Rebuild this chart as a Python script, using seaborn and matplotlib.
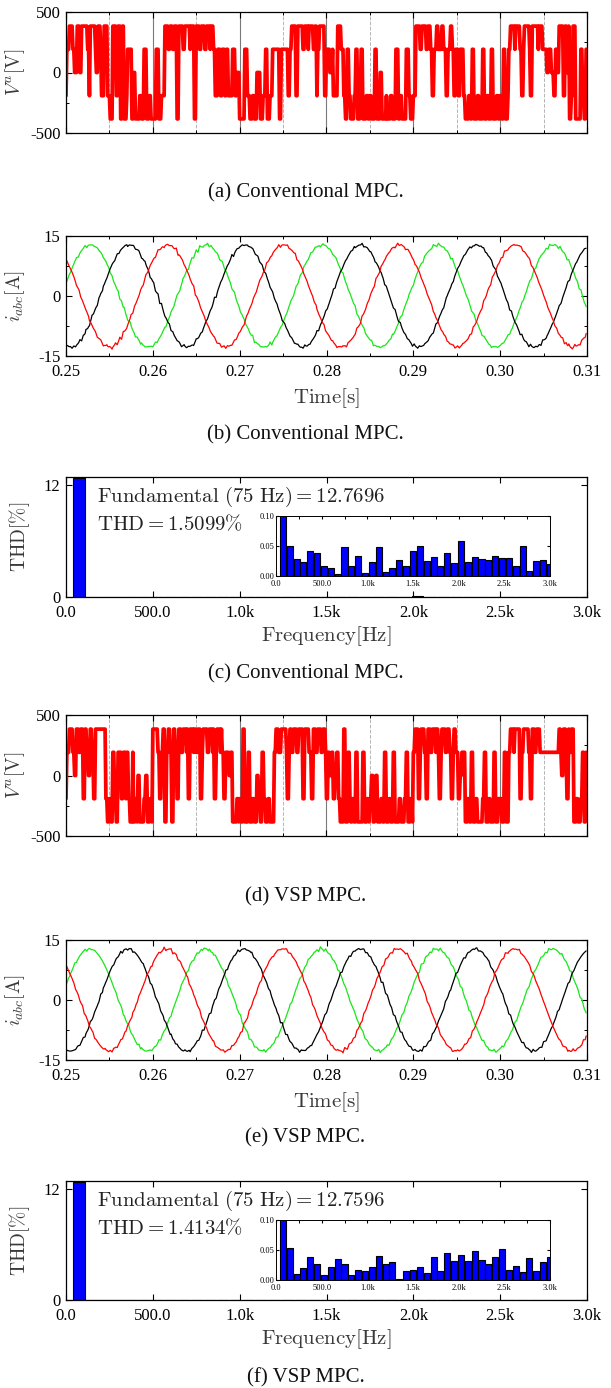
import numpy as np
import pandas as pd
import matplotlib
matplotlib.use("Agg")
import matplotlib.pyplot as plt
from matplotlib.ticker import MultipleLocator, FixedLocator, FixedFormatter
import seaborn as sns

sns.set_theme(style="ticks")
plt.rcParams["font.family"] = ["Liberation Serif", "DejaVu Serif"]
plt.rcParams["mathtext.fontset"] = "cm"
plt.rcParams["axes.unicode_minus"] = False

# ---------------------------------------------------------------- data
F1 = 75.0            # fundamental frequency [Hz]
T_START = 0.25       # first sample [s]
T_STEP = 0.0001      # sample period of the stored voltage sequences [s]
VDC = 575.0          # dc-link voltage [V]; phase levels are k*VDC/3
LEVEL_CODE = {"A": 2, "B": 1, "C": 0, "D": -1, "E": -2}

# phase-a voltage level sequences, one character per sample (10 per ms)
VA_CONV = (
    "DBBBAAAABB" "CCCAAACCAA" "AAAAABBDAA" "AAAABCCAAA" "BDDDAAAADD"
    "DEEEAAAADD" "AAAEEAAEEE" "DBBBBBEECC" "EEEEEDDEEE" "BBBEEEDDEE"
    "EEEEBBBEEE" "DDDDAAAABB" "AAABBAAAEE" "AAAAABBAAA" "AAABAAAAEE"
    "AAAABBAAAA" "BBAAAABAAA" "BBDDDBBBDD" "BBBDDBBDDD" "DDBBBDDCCC"
    "EEEEEEBBBD" "DDEEEDDEEE" "CCCCEEEDDD" "BBEEEDDDBB" "BBBBBBEEBB"
    "BBBBBBDDBB" "AAAAADDAAA" "AAABBAAAAB" "AAAAABBAAD" "BBAAAAAADD"
    "BBBBCCCBDD" "DDDAAAABBB" "DDEEBBDDEE" "EEDDBBEEED" "BBEEEEDDEE"
    "DDEEEEBBEE" "EECCEEEEED" "EEEEDDEEEE" "BBBEEDDEEE" "EEBBBDDEEE"
    "DDDAAAAABB" "AAAAABBAAA" "BBDDBBBAAB" "BBBAABBBDD" "BBBAABBDDB"
    "BBDDBBBBDD" "EEEEDDEEBB" "EEEEDDEEEE" "BBEEEDDEEE" "BBEEEEDDEE"
    "DDEEBBEEED" "BBAAAAABAA" "AAABBDDBAA" "AAAABDDAAA" "AAAABAAAAB"
    "BBBBCCBBBC" "CCDDBBCCAA" "AAADDAACCA" "EEDDAAAEEE" "EEEBBDDEEB"
)
VA_VSP = (
    "DBBBAAAABB" "CCAAABBAAA" "DDAABBCCAA" "BBDDAAAAAA" "AAAAAADDEE"
    "DDEEBBDDEE" "BBBBDDBBBD" "BBDDEEEBEE" "DDECCEEEEE" "DDCCEEEDDE"
    "AAAAAABBDD" "BBAAEEBBAA" "BBEEAABBDD" "AAABBAAAAB" "ADDAAAABAA"
    "BBAAADDBAA" "AAABBAAAAB" "ADDBAAAABA" "BBDDBBBBCC" "BBEEEEEDDE"
    "DDEEAAEEEE" "BBEEEDDEEE" "CCDDEEBBDD" "EEEDDEEEEE" "BBAAABBBAA"
    "AAAABDDBAA" "BBAAAABBAA" "AAADDAAAAA" "BBBDDAAABB" "AAAABBAAAB"
    "DDBBCCBBDD" "CCBBDDEEEE" "AAEEEBBDEE" "DDEEBBEEEE" "EEBBEEEDDE"
    "DDCCEEDCCE" "EEEDDEEBBE" "EEDDEEEBBE" "EEEEDDEEEE" "DDBBEEEDDE"
    "BBAAAADDBA" "AAABBDDAAA" "BBAAAABAAB" "DDBAAAABBA" "AABBDDBAAB"
    "BBDDCCBBBB" "EEEDDEEBBE" "EEDDEEEEEE" "DDBBEEEDDE" "EEEBBEEEDD"
    "DDEEEBBEEE" "BBAAAABAAA" "AAADDBBAAA" "AAABBDDAAA" "BBAAAABBBB"
    "BBBBBBBBBB" "BBBBBBBBAA" "BCCAAABDDA" "BBAAAEEEDD" "EEEDDBBEEB"
)

FUND_AMP = [12.7696, 12.7596]      # fundamental current amplitude [A]
THD_PCT = [1.5099, 1.4134]         # total harmonic distortion [%]
PEAK_T_RED = [0.2617, 0.2616]      # time of the red-phase current peak [s]

# harmonic magnitudes, orders 2..40
HARM_CONV = [0.050, 0.028, 0.023, 0.041, 0.038, 0.017, 0.013, 0.004, 0.048, 0.017,
             0.033, 0.005, 0.023, 0.048, 0.006, 0.014, 0.026, 0.017, 0.041, 0.050,
             0.025, 0.031, 0.017, 0.038, 0.022, 0.058, 0.024, 0.032, 0.028, 0.027,
             0.033, 0.030, 0.030, 0.016, 0.050, 0.008, 0.025, 0.026, 0.020]
HARM_VSP = [0.053, 0.010, 0.020, 0.039, 0.026, 0.008, 0.022, 0.035, 0.026, 0.008,
            0.016, 0.015, 0.022, 0.040, 0.027, 0.030, 0.002, 0.015, 0.017, 0.021,
            0.011, 0.038, 0.015, 0.045, 0.031, 0.042, 0.031, 0.049, 0.033, 0.027,
            0.039, 0.051, 0.016, 0.024, 0.014, 0.036, 0.015, 0.030, 0.038]

TIME_TICKS = [0.25, 0.26, 0.27, 0.28, 0.29, 0.30, 0.31]
TIME_LABELS = ["0.25", "0.26", "0.27", "0.28", "0.29", "0.30", "0.31"]
FREQ_TICKS = [0, 500, 1000, 1500, 2000, 2500, 3000]
FREQ_LABELS = ["0.0", "500.0", "1.0k", "1.5k", "2.0k", "2.5k", "3.0k"]
CAPTIONS = ["(a) Conventional MPC.", "(b) Conventional MPC.", "(c) Conventional MPC.",
            "(d) VSP MPC.", "(e) VSP MPC.", "(f) VSP MPC."]

# ---------------------------------------------------------------- helpers
W_PX, H_PX = 611, 1388
LABEL_COLOR = "#3a3a3a"


def rect(x0, y0, x1, y1):
    return [x0 / W_PX, 1 - y1 / H_PX, (x1 - x0) / W_PX, (y1 - y0) / H_PX]


def levels_to_volts(code):
    return np.array([LEVEL_CODE[c] for c in code], dtype=float) * VDC / 3.0


def phase_currents(t, v, amp, thd, t_peak):
    """Three-phase currents: fundamental plus the ripple produced by
    integrating the switched voltage minus its own fundamental."""
    w = 2 * np.pi * F1
    basis = np.column_stack([np.cos(w * t), np.sin(w * t), np.ones_like(t)])
    coef, *_ = np.linalg.lstsq(basis, v, rcond=None)
    dev = v - basis @ coef
    ripple = np.cumsum(dev)
    ripple = ripple - pd.Series(ripple).rolling(5, center=True, min_periods=1).mean().values
    ripple *= (thd / 100.0 * amp) / ripple.std()
    third = 1.0 / (3 * F1)
    shift = int(round(third / T_STEP))
    red = amp * np.cos(w * (t - t_peak)) + ripple
    black = amp * np.cos(w * (t - t_peak + third)) + np.roll(ripple, shift)
    green = amp * np.cos(w * (t - t_peak + 2 * third)) + np.roll(ripple, 2 * shift)
    return red, black, green


def frame(ax, labelsize=12, xpad=6):
    for s in ax.spines.values():
        s.set_color("black")
        s.set_linewidth(0.9)
    ax.tick_params(which="both", direction="in", top=True, right=True,
                   colors="black", labelsize=labelsize, pad=4)
    ax.tick_params(axis="x", which="both", pad=xpad)
    ax.tick_params(which="major", length=4, width=0.8)
    ax.tick_params(which="minor", length=2.5, width=0.7)


def voltage_panel(ax, t, v):
    sns.lineplot(x=t, y=v, ax=ax, color="#ff0000", linewidth=2.7,
                 estimator=None, sort=False)
    ax.set_xlim(0.25, 0.31)
    ax.set_ylim(-500, 500)
    ax.xaxis.set_major_locator(MultipleLocator(0.01))
    ax.xaxis.set_minor_locator(MultipleLocator(0.005))
    ax.set_xticklabels([])
    ax.yaxis.set_major_locator(FixedLocator([-500, 0, 500]))
    ax.yaxis.set_major_formatter(FixedFormatter(["-500", "0", "500"]))
    ax.yaxis.set_minor_locator(MultipleLocator(250))
    ax.set_axisbelow(True)
    ax.grid(which="major", axis="x", color="#7a7a7a", linewidth=0.8, linestyle="-")
    ax.grid(which="minor", axis="x", color="#b5b5b5", linewidth=0.7, linestyle="--")
    ax.grid(which="major", axis="y", visible=False)
    ax.set_xlabel("")
    ax.set_ylabel(r"$V^a[\mathrm{V}]$", fontsize=14, color=LABEL_COLOR)
    ax.yaxis.set_label_coords(-0.075, 0.5)
    frame(ax)


def current_panel(ax, t, red, black, green):
    sns.lineplot(x=t, y=green, ax=ax, color="#19e619", linewidth=0.9, estimator=None, sort=False)
    sns.lineplot(x=t, y=black, ax=ax, color="#000000", linewidth=0.9, estimator=None, sort=False)
    sns.lineplot(x=t, y=red, ax=ax, color="#ff0000", linewidth=0.9, estimator=None, sort=False)
    ax.set_xlim(0.25, 0.31)
    ax.set_ylim(-15, 15)
    ax.xaxis.set_major_locator(FixedLocator(TIME_TICKS))
    ax.xaxis.set_major_formatter(FixedFormatter(TIME_LABELS))
    ax.xaxis.set_minor_locator(MultipleLocator(0.005))
    ax.yaxis.set_major_locator(FixedLocator([-15, 0, 15]))
    ax.yaxis.set_major_formatter(FixedFormatter(["-15", "0", "15"]))
    ax.yaxis.set_minor_locator(MultipleLocator(7.5))
    ax.set_xlabel(r"$\mathrm{Time[s]}$", fontsize=15, color=LABEL_COLOR)
    ax.xaxis.set_label_coords(0.5, -0.25)
    ax.set_ylabel(r"$i_{abc}[\mathrm{A}]$", fontsize=14, color=LABEL_COLOR)
    ax.yaxis.set_label_coords(-0.075, 0.5)
    frame(ax)


def spectrum_panel(fig, ax, inset_rect, amp, thd, harm):
    freqs = F1 * np.arange(1, len(harm) + 2)
    mags = np.array([amp] + list(harm))
    for a, (ylim, yt, ytl) in zip(
            (ax, fig.add_axes(inset_rect)),
            (((0, 12.9), [0, 12], ["0", "12"]),
             ((0, 0.10), [0.0, 0.05, 0.10], ["0.00", "0.05", "0.10"]))):
        sns.barplot(x=freqs, y=mags, ax=a, native_scale=True, orient="x",
                    width=0.88, color="#0000ff", saturation=1, edgecolor="black",
                    linewidth=0.8, errorbar=None)
        a.set_xlim(0, 3000)
        a.set_ylim(*ylim)
        a.xaxis.set_major_locator(FixedLocator(FREQ_TICKS))
        a.xaxis.set_major_formatter(FixedFormatter(FREQ_LABELS))
        a.yaxis.set_major_locator(FixedLocator(yt))
        a.yaxis.set_major_formatter(FixedFormatter(ytl))
        a.set_xlabel("")
        a.set_ylabel("")
        if a is ax:
            frame(a)
        else:
            frame(a, labelsize=6, xpad=2.8)
            a.xaxis.set_minor_locator(MultipleLocator(250))
            a.tick_params(axis="y", which="both", pad=1.2)
            a.tick_params(which="major", length=2.5)
            a.tick_params(which="minor", length=1.8)
            for s in a.spines.values():
                s.set_linewidth(0.7)
    ax.set_xlabel(r"$\mathrm{Frequency[Hz]}$", fontsize=15, color=LABEL_COLOR)
    ax.xaxis.set_label_coords(0.5, -0.225)
    ax.set_ylabel(r"$\mathrm{THD}[\%]$", fontsize=14, color=LABEL_COLOR)
    ax.yaxis.set_label_coords(-0.065, 0.5)
    ax.text(0.06, 0.835, rf"$\mathrm{{Fundamental\ (75\ Hz)}} = {amp:.4f}$",
            transform=ax.transAxes, fontsize=15, va="center", ha="left", color="#222222")
    ax.text(0.06, 0.60, rf"$\mathrm{{THD}} = {thd:.4f}\%$",
            transform=ax.transAxes, fontsize=15, va="center", ha="left", color="#222222")


# ---------------------------------------------------------------- figure
fig = plt.figure(figsize=(6.11, 13.88), dpi=100)
fig.patch.set_facecolor("white")

X0, X1 = 66, 587
panel_rows = [(12, 133), (236, 356), (477, 597), (715, 836), (940, 1060), (1181, 1300)]
caption_rows = [193, 435, 674, 897, 1138, 1378]

sequences = [VA_CONV, VA_VSP]
for k, seq in enumerate(sequences):
    v = levels_to_volts(seq)
    t = T_START + T_STEP * np.arange(len(v))
    red, black, green = phase_currents(t, v, FUND_AMP[k], THD_PCT[k], PEAK_T_RED[k])

    y_v, y_i, y_s = panel_rows[3 * k], panel_rows[3 * k + 1], panel_rows[3 * k + 2]
    ax_v = fig.add_axes(rect(X0, y_v[0], X1, y_v[1]))
    voltage_panel(ax_v, t, v)

    ax_i = fig.add_axes(rect(X0, y_i[0], X1, y_i[1]))
    current_panel(ax_i, t, red, black, green)

    ax_s = fig.add_axes(rect(X0, y_s[0], X1, y_s[1]))
    top = y_s[0] + 39
    spectrum_panel(fig, ax_s, rect(276, top, 550, top + 60), FUND_AMP[k], THD_PCT[k],
                   [HARM_CONV, HARM_VSP][k])

for cap, yc in zip(CAPTIONS, caption_rows):
    fig.text(0.5, 1 - yc / H_PX, cap, ha="center", va="center", fontsize=15,
             color="#111111")

fig.savefig("out.png", dpi=100, facecolor="white")
